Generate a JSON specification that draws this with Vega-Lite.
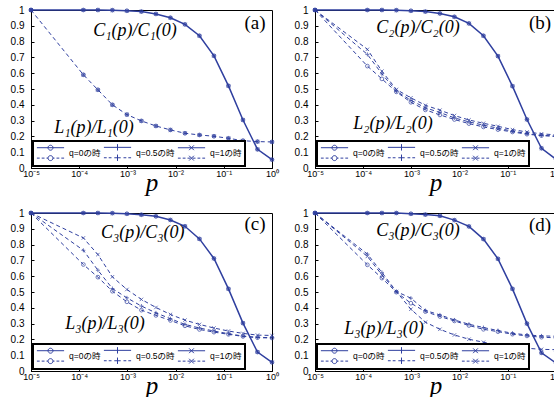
{
"$schema": "https://vega.github.io/schema/vega-lite/v6.json",
"padding": {"left": 9, "top": 4, "right": 0, "bottom": 0},
"background": "white",
"data": {"values": [
{"panel":"a","curve":"C","q":"all","p":0.00001,"v":1},
{"panel":"a","curve":"C","q":"all","p":0.0001220703125,"v":1},
{"panel":"a","curve":"C","q":"all","p":0.000244140625,"v":1},
{"panel":"a","curve":"C","q":"all","p":0.00048828125,"v":0.999},
{"panel":"a","curve":"C","q":"all","p":0.0009765625,"v":0.995},
{"panel":"a","curve":"C","q":"all","p":0.001953125,"v":0.99},
{"panel":"a","curve":"C","q":"all","p":0.00390625,"v":0.975},
{"panel":"a","curve":"C","q":"all","p":0.0078125,"v":0.951},
{"panel":"a","curve":"C","q":"all","p":0.015625,"v":0.909},
{"panel":"a","curve":"C","q":"all","p":0.03125,"v":0.837},
{"panel":"a","curve":"C","q":"all","p":0.0625,"v":0.71},
{"panel":"a","curve":"C","q":"all","p":0.125,"v":0.52},
{"panel":"a","curve":"C","q":"all","p":0.25,"v":0.304},
{"panel":"a","curve":"C","q":"all","p":0.5,"v":0.118},
{"panel":"a","curve":"C","q":"all","p":1,"v":0.053},
{"panel":"a","curve":"L","q":"all","p":0.00001,"v":1},
{"panel":"a","curve":"L","q":"all","p":0.0001220703125,"v":0.59},
{"panel":"a","curve":"L","q":"all","p":0.000244140625,"v":0.495},
{"panel":"a","curve":"L","q":"all","p":0.00048828125,"v":0.4},
{"panel":"a","curve":"L","q":"all","p":0.0009765625,"v":0.338},
{"panel":"a","curve":"L","q":"all","p":0.001953125,"v":0.298},
{"panel":"a","curve":"L","q":"all","p":0.00390625,"v":0.266},
{"panel":"a","curve":"L","q":"all","p":0.0078125,"v":0.241},
{"panel":"a","curve":"L","q":"all","p":0.015625,"v":0.22},
{"panel":"a","curve":"L","q":"all","p":0.03125,"v":0.209},
{"panel":"a","curve":"L","q":"all","p":0.0625,"v":0.201},
{"panel":"a","curve":"L","q":"all","p":0.125,"v":0.188},
{"panel":"a","curve":"L","q":"all","p":0.25,"v":0.173},
{"panel":"a","curve":"L","q":"all","p":0.5,"v":0.167},
{"panel":"a","curve":"L","q":"all","p":1,"v":0.165},

{"panel":"b","curve":"C","q":"all","p":0.00001,"v":1},
{"panel":"b","curve":"C","q":"all","p":0.0001220703125,"v":1},
{"panel":"b","curve":"C","q":"all","p":0.000244140625,"v":1},
{"panel":"b","curve":"C","q":"all","p":0.00048828125,"v":0.999},
{"panel":"b","curve":"C","q":"all","p":0.0009765625,"v":0.995},
{"panel":"b","curve":"C","q":"all","p":0.001953125,"v":0.99},
{"panel":"b","curve":"C","q":"all","p":0.00390625,"v":0.978},
{"panel":"b","curve":"C","q":"all","p":0.0078125,"v":0.957},
{"panel":"b","curve":"C","q":"all","p":0.015625,"v":0.915},
{"panel":"b","curve":"C","q":"all","p":0.03125,"v":0.837},
{"panel":"b","curve":"C","q":"all","p":0.0625,"v":0.708},
{"panel":"b","curve":"C","q":"all","p":0.125,"v":0.518},
{"panel":"b","curve":"C","q":"all","p":0.25,"v":0.307},
{"panel":"b","curve":"C","q":"all","p":0.5,"v":0.125},
{"panel":"b","curve":"C","q":"all","p":1,"v":0.055},
{"panel":"b","curve":"L","q":"0","p":0.00001,"v":1},
{"panel":"b","curve":"L","q":"0","p":0.0001220703125,"v":0.645},
{"panel":"b","curve":"L","q":"0","p":0.000244140625,"v":0.564},
{"panel":"b","curve":"L","q":"0","p":0.00048828125,"v":0.482},
{"panel":"b","curve":"L","q":"0","p":0.0009765625,"v":0.416},
{"panel":"b","curve":"L","q":"0","p":0.001953125,"v":0.368},
{"panel":"b","curve":"L","q":"0","p":0.00390625,"v":0.336},
{"panel":"b","curve":"L","q":"0","p":0.0078125,"v":0.307},
{"panel":"b","curve":"L","q":"0","p":0.015625,"v":0.281},
{"panel":"b","curve":"L","q":"0","p":0.03125,"v":0.26},
{"panel":"b","curve":"L","q":"0","p":0.0625,"v":0.243},
{"panel":"b","curve":"L","q":"0","p":0.125,"v":0.228},
{"panel":"b","curve":"L","q":"0","p":0.25,"v":0.214},
{"panel":"b","curve":"L","q":"0","p":0.5,"v":0.205},
{"panel":"b","curve":"L","q":"0","p":1,"v":0.2},
{"panel":"b","curve":"L","q":"0.5","p":0.00001,"v":1},
{"panel":"b","curve":"L","q":"0.5","p":0.0001220703125,"v":0.719},
{"panel":"b","curve":"L","q":"0.5","p":0.000244140625,"v":0.596},
{"panel":"b","curve":"L","q":"0.5","p":0.00048828125,"v":0.486},
{"panel":"b","curve":"L","q":"0.5","p":0.0009765625,"v":0.429},
{"panel":"b","curve":"L","q":"0.5","p":0.001953125,"v":0.381},
{"panel":"b","curve":"L","q":"0.5","p":0.00390625,"v":0.351},
{"panel":"b","curve":"L","q":"0.5","p":0.0078125,"v":0.317},
{"panel":"b","curve":"L","q":"0.5","p":0.015625,"v":0.292},
{"panel":"b","curve":"L","q":"0.5","p":0.03125,"v":0.271},
{"panel":"b","curve":"L","q":"0.5","p":0.0625,"v":0.252},
{"panel":"b","curve":"L","q":"0.5","p":0.125,"v":0.233},
{"panel":"b","curve":"L","q":"0.5","p":0.25,"v":0.218},
{"panel":"b","curve":"L","q":"0.5","p":0.5,"v":0.207},
{"panel":"b","curve":"L","q":"0.5","p":1,"v":0.202},
{"panel":"b","curve":"L","q":"1","p":0.00001,"v":1},
{"panel":"b","curve":"L","q":"1","p":0.0001220703125,"v":0.751},
{"panel":"b","curve":"L","q":"1","p":0.000244140625,"v":0.613},
{"panel":"b","curve":"L","q":"1","p":0.00048828125,"v":0.497},
{"panel":"b","curve":"L","q":"1","p":0.0009765625,"v":0.444},
{"panel":"b","curve":"L","q":"1","p":0.001953125,"v":0.397},
{"panel":"b","curve":"L","q":"1","p":0.00390625,"v":0.366},
{"panel":"b","curve":"L","q":"1","p":0.0078125,"v":0.332},
{"panel":"b","curve":"L","q":"1","p":0.015625,"v":0.304},
{"panel":"b","curve":"L","q":"1","p":0.03125,"v":0.283},
{"panel":"b","curve":"L","q":"1","p":0.0625,"v":0.264},
{"panel":"b","curve":"L","q":"1","p":0.125,"v":0.243},
{"panel":"b","curve":"L","q":"1","p":0.25,"v":0.228},
{"panel":"b","curve":"L","q":"1","p":0.5,"v":0.216},
{"panel":"b","curve":"L","q":"1","p":1,"v":0.21},

{"panel":"c","curve":"C","q":"all","p":0.00001,"v":1},
{"panel":"c","curve":"C","q":"all","p":0.0001220703125,"v":1},
{"panel":"c","curve":"C","q":"all","p":0.000244140625,"v":1},
{"panel":"c","curve":"C","q":"all","p":0.00048828125,"v":0.999},
{"panel":"c","curve":"C","q":"all","p":0.0009765625,"v":0.995},
{"panel":"c","curve":"C","q":"all","p":0.001953125,"v":0.989},
{"panel":"c","curve":"C","q":"all","p":0.00390625,"v":0.979},
{"panel":"c","curve":"C","q":"all","p":0.0078125,"v":0.956},
{"panel":"c","curve":"C","q":"all","p":0.015625,"v":0.916},
{"panel":"c","curve":"C","q":"all","p":0.03125,"v":0.836},
{"panel":"c","curve":"C","q":"all","p":0.0625,"v":0.712},
{"panel":"c","curve":"C","q":"all","p":0.125,"v":0.52},
{"panel":"c","curve":"C","q":"all","p":0.25,"v":0.303},
{"panel":"c","curve":"C","q":"all","p":0.5,"v":0.12},
{"panel":"c","curve":"C","q":"all","p":1,"v":0.055},
{"panel":"c","curve":"L","q":"0","p":0.00001,"v":1},
{"panel":"c","curve":"L","q":"0","p":0.0001220703125,"v":0.674},
{"panel":"c","curve":"L","q":"0","p":0.000244140625,"v":0.594},
{"panel":"c","curve":"L","q":"0","p":0.00048828125,"v":0.505},
{"panel":"c","curve":"L","q":"0","p":0.0009765625,"v":0.438},
{"panel":"c","curve":"L","q":"0","p":0.001953125,"v":0.385},
{"panel":"c","curve":"L","q":"0","p":0.00390625,"v":0.352},
{"panel":"c","curve":"L","q":"0","p":0.0078125,"v":0.32},
{"panel":"c","curve":"L","q":"0","p":0.015625,"v":0.286},
{"panel":"c","curve":"L","q":"0","p":0.03125,"v":0.263},
{"panel":"c","curve":"L","q":"0","p":0.0625,"v":0.246},
{"panel":"c","curve":"L","q":"0","p":0.125,"v":0.232},
{"panel":"c","curve":"L","q":"0","p":0.25,"v":0.219},
{"panel":"c","curve":"L","q":"0","p":0.5,"v":0.211},
{"panel":"c","curve":"L","q":"0","p":1,"v":0.209},
{"panel":"c","curve":"L","q":"0.5","p":0.00001,"v":1},
{"panel":"c","curve":"L","q":"0.5","p":0.0001220703125,"v":0.764},
{"panel":"c","curve":"L","q":"0.5","p":0.000244140625,"v":0.638},
{"panel":"c","curve":"L","q":"0.5","p":0.00048828125,"v":0.522},
{"panel":"c","curve":"L","q":"0.5","p":0.0009765625,"v":0.463},
{"panel":"c","curve":"L","q":"0.5","p":0.001953125,"v":0.411},
{"panel":"c","curve":"L","q":"0.5","p":0.00390625,"v":0.368},
{"panel":"c","curve":"L","q":"0.5","p":0.0078125,"v":0.331},
{"panel":"c","curve":"L","q":"0.5","p":0.015625,"v":0.295},
{"panel":"c","curve":"L","q":"0.5","p":0.03125,"v":0.272},
{"panel":"c","curve":"L","q":"0.5","p":0.0625,"v":0.253},
{"panel":"c","curve":"L","q":"0.5","p":0.125,"v":0.236},
{"panel":"c","curve":"L","q":"0.5","p":0.25,"v":0.221},
{"panel":"c","curve":"L","q":"0.5","p":0.5,"v":0.213},
{"panel":"c","curve":"L","q":"0.5","p":1,"v":0.211},
{"panel":"c","curve":"L","q":"1","p":0.00001,"v":1},
{"panel":"c","curve":"L","q":"1","p":0.0001220703125,"v":0.842},
{"panel":"c","curve":"L","q":"1","p":0.000244140625,"v":0.737},
{"panel":"c","curve":"L","q":"1","p":0.00048828125,"v":0.596},
{"panel":"c","curve":"L","q":"1","p":0.0009765625,"v":0.516},
{"panel":"c","curve":"L","q":"1","p":0.001953125,"v":0.453},
{"panel":"c","curve":"L","q":"1","p":0.00390625,"v":0.402},
{"panel":"c","curve":"L","q":"1","p":0.0078125,"v":0.358},
{"panel":"c","curve":"L","q":"1","p":0.015625,"v":0.322},
{"panel":"c","curve":"L","q":"1","p":0.03125,"v":0.295},
{"panel":"c","curve":"L","q":"1","p":0.0625,"v":0.272},
{"panel":"c","curve":"L","q":"1","p":0.125,"v":0.253},
{"panel":"c","curve":"L","q":"1","p":0.25,"v":0.238},
{"panel":"c","curve":"L","q":"1","p":0.5,"v":0.227},
{"panel":"c","curve":"L","q":"1","p":1,"v":0.225},

{"panel":"d","curve":"C","q":"all","p":0.00001,"v":1},
{"panel":"d","curve":"C","q":"all","p":0.0001220703125,"v":1},
{"panel":"d","curve":"C","q":"all","p":0.000244140625,"v":1},
{"panel":"d","curve":"C","q":"all","p":0.00048828125,"v":1},
{"panel":"d","curve":"C","q":"all","p":0.0009765625,"v":0.995},
{"panel":"d","curve":"C","q":"all","p":0.001953125,"v":0.99},
{"panel":"d","curve":"C","q":"all","p":0.00390625,"v":0.982},
{"panel":"d","curve":"C","q":"all","p":0.0078125,"v":0.955},
{"panel":"d","curve":"C","q":"all","p":0.015625,"v":0.915},
{"panel":"d","curve":"C","q":"all","p":0.03125,"v":0.835},
{"panel":"d","curve":"C","q":"all","p":0.0625,"v":0.71},
{"panel":"d","curve":"C","q":"all","p":0.125,"v":0.52},
{"panel":"d","curve":"C","q":"all","p":0.25,"v":0.3},
{"panel":"d","curve":"C","q":"all","p":0.5,"v":0.115},
{"panel":"d","curve":"C","q":"all","p":1,"v":0.05},
{"panel":"d","curve":"L","q":"0","p":0.00001,"v":1},
{"panel":"d","curve":"L","q":"0","p":0.0001220703125,"v":0.672},
{"panel":"d","curve":"L","q":"0","p":0.000244140625,"v":0.588},
{"panel":"d","curve":"L","q":"0","p":0.00048828125,"v":0.499},
{"panel":"d","curve":"L","q":"0","p":0.0009765625,"v":0.429},
{"panel":"d","curve":"L","q":"0","p":0.001953125,"v":0.376},
{"panel":"d","curve":"L","q":"0","p":0.00390625,"v":0.345},
{"panel":"d","curve":"L","q":"0","p":0.0078125,"v":0.317},
{"panel":"d","curve":"L","q":"0","p":0.015625,"v":0.288},
{"panel":"d","curve":"L","q":"0","p":0.03125,"v":0.264},
{"panel":"d","curve":"L","q":"0","p":0.0625,"v":0.249},
{"panel":"d","curve":"L","q":"0","p":0.125,"v":0.233},
{"panel":"d","curve":"L","q":"0","p":0.25,"v":0.222},
{"panel":"d","curve":"L","q":"0","p":0.5,"v":0.214},
{"panel":"d","curve":"L","q":"0","p":1,"v":0.21},
{"panel":"d","curve":"L","q":"0.5","p":0.00001,"v":1},
{"panel":"d","curve":"L","q":"0.5","p":0.0001220703125,"v":0.74},
{"panel":"d","curve":"L","q":"0.5","p":0.000244140625,"v":0.624},
{"panel":"d","curve":"L","q":"0.5","p":0.00048828125,"v":0.503},
{"panel":"d","curve":"L","q":"0.5","p":0.0009765625,"v":0.461},
{"panel":"d","curve":"L","q":"0.5","p":0.001953125,"v":0.383},
{"panel":"d","curve":"L","q":"0.5","p":0.00390625,"v":0.355},
{"panel":"d","curve":"L","q":"0.5","p":0.0078125,"v":0.323},
{"panel":"d","curve":"L","q":"0.5","p":0.015625,"v":0.296},
{"panel":"d","curve":"L","q":"0.5","p":0.03125,"v":0.275},
{"panel":"d","curve":"L","q":"0.5","p":0.0625,"v":0.256},
{"panel":"d","curve":"L","q":"0.5","p":0.125,"v":0.239},
{"panel":"d","curve":"L","q":"0.5","p":0.25,"v":0.228},
{"panel":"d","curve":"L","q":"0.5","p":0.5,"v":0.222},
{"panel":"d","curve":"L","q":"0.5","p":1,"v":0.22},
{"panel":"d","curve":"L","q":"1","p":0.00001,"v":1},
{"panel":"d","curve":"L","q":"1","p":0.0001220703125,"v":0.725},
{"panel":"d","curve":"L","q":"1","p":0.000244140625,"v":0.609},
{"panel":"d","curve":"L","q":"1","p":0.00048828125,"v":0.503},
{"panel":"d","curve":"L","q":"1","p":0.0009765625,"v":0.391},
{"panel":"d","curve":"L","q":"1","p":0.001953125,"v":0.309},
{"panel":"d","curve":"L","q":"1","p":0.00390625,"v":0.264},
{"panel":"d","curve":"L","q":"1","p":0.0078125,"v":0.228},
{"panel":"d","curve":"L","q":"1","p":0.015625,"v":0.201},
{"panel":"d","curve":"L","q":"1","p":0.03125,"v":0.182},
{"panel":"d","curve":"L","q":"1","p":0.0625,"v":0.165},
{"panel":"d","curve":"L","q":"1","p":0.125,"v":0.154},
{"panel":"d","curve":"L","q":"1","p":0.25,"v":0.144},
{"panel":"d","curve":"L","q":"1","p":0.5,"v":0.137},
{"panel":"d","curve":"L","q":"1","p":1,"v":0.135}
]},
"columns": 2,
"spacing": {"row": 45, "column": 43},
"bounds": "flush",
"resolve": {"scale": {"x": "independent", "y": "independent", "shape": "independent"}, "legend": {"shape": "independent"}},
"concat": [
{
 "width": 241, "height": 158,
 "transform": [{"filter": "datum.panel === 'a'"}],
 "encoding": {
  "x": {"field": "p", "type": "quantitative", "title": "p", "scale": {"type": "log", "domain": [0.00001, 1], "nice": false},
    "axis": {"values": [0.00001, 0.0001, 0.001, 0.01, 0.1, 1], "labelOverlap": false, "labelFlush": false, "labelExpr": "['10⁻⁵','10⁻⁴','10⁻³','10⁻²','10⁻¹','10⁰'][round(log(datum.value)/LN10)+5]"}},
  "y": {"field": "v", "type": "quantitative", "title": null, "scale": {"domain": [0, 1], "nice": false},
    "axis": {"values": [0, 0.1, 0.2, 0.3, 0.4, 0.5, 0.6, 0.7, 0.8, 0.9, 1], "format": "~g", "labelOverlap": false, "labelFlush": false}}
 },
 "layer": [
  {"transform": [{"filter": "datum.curve === 'C'"}],
   "mark": {"type": "line", "color": "#2f3f9f", "strokeWidth": 1.5},
   "encoding": {"detail": {"field": "q"}}},
  {"transform": [{"filter": "datum.curve === 'L'"}],
   "mark": {"type": "line", "color": "#2f3f9f", "strokeWidth": 1, "strokeDash": [4, 3]},
   "encoding": {"detail": {"field": "q"}}},
  {"transform": [{"filter": "datum.q === '0' || datum.q === 'all'"}],
   "mark": {"type": "point", "shape": "circle", "size": 14, "color": "#2f3f9f", "strokeWidth": 1}},
  {"transform": [{"filter": "datum.q === '0.5' || datum.q === 'all'"}],
   "mark": {"type": "point", "shape": "M-1,0H1M0,-1V1", "size": 16, "color": "#2f3f9f", "strokeWidth": 1}},
  {"transform": [{"filter": "datum.q === '1' || datum.q === 'all'"}],
   "mark": {"type": "point", "shape": "M-1,-1L1,1M-1,1L1,-1", "size": 12, "color": "#2f3f9f", "strokeWidth": 1}},
  {"data": {"values": [{"p": 0.00144, "v": 0.835, "text": "C₁(p)/C₁(0)"}, {"p": 0.000203, "v": 0.222, "text": "L₁(p)/L₁(0)"}]},
   "mark": {"type": "text", "font": "Liberation Serif", "fontStyle": "italic", "fontSize": 18, "align": "center", "baseline": "alphabetic", "color": "black"},
   "encoding": {"text": {"field": "text"}}},
  {"data": {"values": [{"p": 0.443, "v": 0.878, "text": "(a)"}]},
   "mark": {"type": "text", "font": "Liberation Serif", "fontSize": 19, "align": "center", "baseline": "alphabetic", "color": "black"},
   "encoding": {"text": {"field": "text"}}},
  {"data": {"values": [{"q": "q=0の時"}, {"q": "q=0.5の時"}, {"q": "q=1の時"}]},
   "mark": {"type": "point", "opacity": 0, "color": "#2f3f9f", "size": 256},
   "encoding": {"shape": {"field": "q", "type": "nominal", "legend": {"title": null},
     "scale": {"domain": ["q=0の時", "q=0.5の時", "q=1の時"], "range": [
      "M-1.7,-0.65H1.7M0.31,-0.65A0.31,0.31,0,1,1,-0.31,-0.65A0.31,0.31,0,1,1,0.31,-0.65M-1.7,0.65H-1.35M-1.1,0.65H-0.75M-0.5,0.65H-0.31M0.31,0.65H0.5M0.75,0.65H1.1M1.35,0.65H1.7M0.31,0.65A0.31,0.31,0,1,1,-0.31,0.65A0.31,0.31,0,1,1,0.31,0.65",
      "M-1.7,-0.65H1.7M0,-1.05V-0.25M-1.7,0.65H-1.35M-1.1,0.65H-0.75M-0.4,0.65H0.4M0.75,0.65H1.1M1.35,0.65H1.7M0,0.25V1.05",
      "M-1.7,-0.65H1.7M-0.3,-0.95L0.3,-0.35M-0.3,-0.35L0.3,-0.95M-1.7,0.65H-1.35M-1.1,0.65H-0.75M-0.5,0.65H-0.15M0.15,0.65H0.5M0.75,0.65H1.1M1.35,0.65H1.7M-0.3,0.35L0.3,0.95M-0.3,0.95L0.3,0.35"]}}}}
 ]
},
{
 "width": 241, "height": 158,
 "transform": [{"filter": "datum.panel === 'b'"}],
 "encoding": {
  "x": {"field": "p", "type": "quantitative", "title": "p", "scale": {"type": "log", "domain": [0.00001, 1], "nice": false},
    "axis": {"values": [0.00001, 0.0001, 0.001, 0.01, 0.1, 1], "labelOverlap": false, "labelFlush": false, "labelExpr": "['10⁻⁵','10⁻⁴','10⁻³','10⁻²','10⁻¹','10⁰'][round(log(datum.value)/LN10)+5]"}},
  "y": {"field": "v", "type": "quantitative", "title": null, "scale": {"domain": [0, 1], "nice": false},
    "axis": {"values": [0, 0.1, 0.2, 0.3, 0.4, 0.5, 0.6, 0.7, 0.8, 0.9, 1], "format": "~g", "labelOverlap": false, "labelFlush": false}}
 },
 "layer": [
  {"transform": [{"filter": "datum.curve === 'C'"}],
   "mark": {"type": "line", "color": "#2f3f9f", "strokeWidth": 1.5},
   "encoding": {"detail": {"field": "q"}}},
  {"transform": [{"filter": "datum.curve === 'L'"}],
   "mark": {"type": "line", "color": "#2f3f9f", "strokeWidth": 1, "strokeDash": [4, 3]},
   "encoding": {"detail": {"field": "q"}}},
  {"transform": [{"filter": "datum.q === '0' || datum.q === 'all'"}],
   "mark": {"type": "point", "shape": "circle", "size": 14, "color": "#2f3f9f", "strokeWidth": 1}},
  {"transform": [{"filter": "datum.q === '0.5' || datum.q === 'all'"}],
   "mark": {"type": "point", "shape": "M-1,0H1M0,-1V1", "size": 16, "color": "#2f3f9f", "strokeWidth": 1}},
  {"transform": [{"filter": "datum.q === '1' || datum.q === 'all'"}],
   "mark": {"type": "point", "shape": "M-1,-1L1,1M-1,1L1,-1", "size": 12, "color": "#2f3f9f", "strokeWidth": 1}},
  {"data": {"values": [{"p": 0.00137, "v": 0.856, "text": "C₂(p)/C₂(0)"}, {"p": 0.000415, "v": 0.247, "text": "L₂(p)/L₂(0)"}]},
   "mark": {"type": "text", "font": "Liberation Serif", "fontStyle": "italic", "fontSize": 18, "align": "center", "baseline": "alphabetic", "color": "black"},
   "encoding": {"text": {"field": "text"}}},
  {"data": {"values": [{"p": 0.466, "v": 0.88, "text": "(b)"}]},
   "mark": {"type": "text", "font": "Liberation Serif", "fontSize": 19, "align": "center", "baseline": "alphabetic", "color": "black"},
   "encoding": {"text": {"field": "text"}}},
  {"data": {"values": [{"q": "q=0の時"}, {"q": "q=0.5の時"}, {"q": "q=1の時"}]},
   "mark": {"type": "point", "opacity": 0, "color": "#2f3f9f", "size": 256},
   "encoding": {"shape": {"field": "q", "type": "nominal", "legend": {"title": null},
     "scale": {"domain": ["q=0の時", "q=0.5の時", "q=1の時"], "range": [
      "M-1.7,-0.65H1.7M0.31,-0.65A0.31,0.31,0,1,1,-0.31,-0.65A0.31,0.31,0,1,1,0.31,-0.65M-1.7,0.65H-1.35M-1.1,0.65H-0.75M-0.5,0.65H-0.31M0.31,0.65H0.5M0.75,0.65H1.1M1.35,0.65H1.7M0.31,0.65A0.31,0.31,0,1,1,-0.31,0.65A0.31,0.31,0,1,1,0.31,0.65",
      "M-1.7,-0.65H1.7M0,-1.05V-0.25M-1.7,0.65H-1.35M-1.1,0.65H-0.75M-0.4,0.65H0.4M0.75,0.65H1.1M1.35,0.65H1.7M0,0.25V1.05",
      "M-1.7,-0.65H1.7M-0.3,-0.95L0.3,-0.35M-0.3,-0.35L0.3,-0.95M-1.7,0.65H-1.35M-1.1,0.65H-0.75M-0.5,0.65H-0.15M0.15,0.65H0.5M0.75,0.65H1.1M1.35,0.65H1.7M-0.3,0.35L0.3,0.95M-0.3,0.95L0.3,0.35"]}}}}
 ]
},
{
 "width": 241, "height": 158,
 "transform": [{"filter": "datum.panel === 'c'"}],
 "encoding": {
  "x": {"field": "p", "type": "quantitative", "title": "p", "scale": {"type": "log", "domain": [0.00001, 1], "nice": false},
    "axis": {"values": [0.00001, 0.0001, 0.001, 0.01, 0.1, 1], "labelOverlap": false, "labelFlush": false, "labelExpr": "['10⁻⁵','10⁻⁴','10⁻³','10⁻²','10⁻¹','10⁰'][round(log(datum.value)/LN10)+5]"}},
  "y": {"field": "v", "type": "quantitative", "title": null, "scale": {"domain": [0, 1], "nice": false},
    "axis": {"values": [0, 0.1, 0.2, 0.3, 0.4, 0.5, 0.6, 0.7, 0.8, 0.9, 1], "format": "~g", "labelOverlap": false, "labelFlush": false}}
 },
 "layer": [
  {"transform": [{"filter": "datum.curve === 'C'"}],
   "mark": {"type": "line", "color": "#2f3f9f", "strokeWidth": 1.5},
   "encoding": {"detail": {"field": "q"}}},
  {"transform": [{"filter": "datum.curve === 'L'"}],
   "mark": {"type": "line", "color": "#2f3f9f", "strokeWidth": 1, "strokeDash": [4, 3]},
   "encoding": {"detail": {"field": "q"}}},
  {"transform": [{"filter": "datum.q === '0' || datum.q === 'all'"}],
   "mark": {"type": "point", "shape": "circle", "size": 14, "color": "#2f3f9f", "strokeWidth": 1}},
  {"transform": [{"filter": "datum.q === '0.5' || datum.q === 'all'"}],
   "mark": {"type": "point", "shape": "M-1,0H1M0,-1V1", "size": 16, "color": "#2f3f9f", "strokeWidth": 1}},
  {"transform": [{"filter": "datum.q === '1' || datum.q === 'all'"}],
   "mark": {"type": "point", "shape": "M-1,-1L1,1M-1,1L1,-1", "size": 12, "color": "#2f3f9f", "strokeWidth": 1}},
  {"data": {"values": [{"p": 0.00209, "v": 0.844, "text": "C₃(p)/C₃(0)"}, {"p": 0.000343, "v": 0.264, "text": "L₃(p)/L₃(0)"}]},
   "mark": {"type": "text", "font": "Liberation Serif", "fontStyle": "italic", "fontSize": 18, "align": "center", "baseline": "alphabetic", "color": "black"},
   "encoding": {"text": {"field": "text"}}},
  {"data": {"values": [{"p": 0.443, "v": 0.892, "text": "(c)"}]},
   "mark": {"type": "text", "font": "Liberation Serif", "fontSize": 19, "align": "center", "baseline": "alphabetic", "color": "black"},
   "encoding": {"text": {"field": "text"}}},
  {"data": {"values": [{"q": "q=0の時"}, {"q": "q=0.5の時"}, {"q": "q=1の時"}]},
   "mark": {"type": "point", "opacity": 0, "color": "#2f3f9f", "size": 256},
   "encoding": {"shape": {"field": "q", "type": "nominal", "legend": {"title": null},
     "scale": {"domain": ["q=0の時", "q=0.5の時", "q=1の時"], "range": [
      "M-1.7,-0.65H1.7M0.31,-0.65A0.31,0.31,0,1,1,-0.31,-0.65A0.31,0.31,0,1,1,0.31,-0.65M-1.7,0.65H-1.35M-1.1,0.65H-0.75M-0.5,0.65H-0.31M0.31,0.65H0.5M0.75,0.65H1.1M1.35,0.65H1.7M0.31,0.65A0.31,0.31,0,1,1,-0.31,0.65A0.31,0.31,0,1,1,0.31,0.65",
      "M-1.7,-0.65H1.7M0,-1.05V-0.25M-1.7,0.65H-1.35M-1.1,0.65H-0.75M-0.4,0.65H0.4M0.75,0.65H1.1M1.35,0.65H1.7M0,0.25V1.05",
      "M-1.7,-0.65H1.7M-0.3,-0.95L0.3,-0.35M-0.3,-0.35L0.3,-0.95M-1.7,0.65H-1.35M-1.1,0.65H-0.75M-0.5,0.65H-0.15M0.15,0.65H0.5M0.75,0.65H1.1M1.35,0.65H1.7M-0.3,0.35L0.3,0.95M-0.3,0.95L0.3,0.35"]}}}}
 ]
},
{
 "width": 241, "height": 158,
 "transform": [{"filter": "datum.panel === 'd'"}],
 "encoding": {
  "x": {"field": "p", "type": "quantitative", "title": "p", "scale": {"type": "log", "domain": [0.00001, 1], "nice": false},
    "axis": {"values": [0.00001, 0.0001, 0.001, 0.01, 0.1, 1], "labelOverlap": false, "labelFlush": false, "labelExpr": "['10⁻⁵','10⁻⁴','10⁻³','10⁻²','10⁻¹','10⁰'][round(log(datum.value)/LN10)+5]"}},
  "y": {"field": "v", "type": "quantitative", "title": null, "scale": {"domain": [0, 1], "nice": false},
    "axis": {"values": [0, 0.1, 0.2, 0.3, 0.4, 0.5, 0.6, 0.7, 0.8, 0.9, 1], "format": "~g", "labelOverlap": false, "labelFlush": false}}
 },
 "layer": [
  {"transform": [{"filter": "datum.curve === 'C'"}],
   "mark": {"type": "line", "color": "#2f3f9f", "strokeWidth": 1.5},
   "encoding": {"detail": {"field": "q"}}},
  {"transform": [{"filter": "datum.curve === 'L'"}],
   "mark": {"type": "line", "color": "#2f3f9f", "strokeWidth": 1, "strokeDash": [4, 3]},
   "encoding": {"detail": {"field": "q"}}},
  {"transform": [{"filter": "datum.q === '0' || datum.q === 'all'"}],
   "mark": {"type": "point", "shape": "circle", "size": 14, "color": "#2f3f9f", "strokeWidth": 1}},
  {"transform": [{"filter": "datum.q === '0.5' || datum.q === 'all'"}],
   "mark": {"type": "point", "shape": "M-1,0H1M0,-1V1", "size": 16, "color": "#2f3f9f", "strokeWidth": 1}},
  {"transform": [{"filter": "datum.q === '1' || datum.q === 'all'"}],
   "mark": {"type": "point", "shape": "M-1,-1L1,1M-1,1L1,-1", "size": 12, "color": "#2f3f9f", "strokeWidth": 1}},
  {"data": {"values": [{"p": 0.00137, "v": 0.854, "text": "C₃(p)/C₃(0)"}, {"p": 0.000269, "v": 0.234, "text": "L₃(p)/L₃(0)"}]},
   "mark": {"type": "text", "font": "Liberation Serif", "fontStyle": "italic", "fontSize": 18, "align": "center", "baseline": "alphabetic", "color": "black"},
   "encoding": {"text": {"field": "text"}}},
  {"data": {"values": [{"p": 0.466, "v": 0.886, "text": "(d)"}]},
   "mark": {"type": "text", "font": "Liberation Serif", "fontSize": 19, "align": "center", "baseline": "alphabetic", "color": "black"},
   "encoding": {"text": {"field": "text"}}},
  {"data": {"values": [{"q": "q=0の時"}, {"q": "q=0.5の時"}, {"q": "q=1の時"}]},
   "mark": {"type": "point", "opacity": 0, "color": "#2f3f9f", "size": 256},
   "encoding": {"shape": {"field": "q", "type": "nominal", "legend": {"title": null},
     "scale": {"domain": ["q=0の時", "q=0.5の時", "q=1の時"], "range": [
      "M-1.7,-0.65H1.7M0.31,-0.65A0.31,0.31,0,1,1,-0.31,-0.65A0.31,0.31,0,1,1,0.31,-0.65M-1.7,0.65H-1.35M-1.1,0.65H-0.75M-0.5,0.65H-0.31M0.31,0.65H0.5M0.75,0.65H1.1M1.35,0.65H1.7M0.31,0.65A0.31,0.31,0,1,1,-0.31,0.65A0.31,0.31,0,1,1,0.31,0.65",
      "M-1.7,-0.65H1.7M0,-1.05V-0.25M-1.7,0.65H-1.35M-1.1,0.65H-0.75M-0.4,0.65H0.4M0.75,0.65H1.1M1.35,0.65H1.7M0,0.25V1.05",
      "M-1.7,-0.65H1.7M-0.3,-0.95L0.3,-0.35M-0.3,-0.35L0.3,-0.95M-1.7,0.65H-1.35M-1.1,0.65H-0.75M-0.5,0.65H-0.15M0.15,0.65H0.5M0.75,0.65H1.1M1.35,0.65H1.7M-0.3,0.35L0.3,0.95M-0.3,0.95L0.3,0.35"]}}}}
 ]
}
],
"config": {
 "font": "Liberation Sans",
 "view": {"stroke": "black", "strokeWidth": 1},
 "axis": {"grid": false, "domainColor": "black", "domainWidth": 1, "tickColor": "black", "tickSize": -3, "labelColor": "black", "labelFont": "Liberation Sans", "labelFlush": false, "labelOverlap": false},
 "axisX": {"labelFontSize": 9, "labelPadding": 4, "titleFont": "Liberation Serif", "titleFontStyle": "italic", "titleFontWeight": "normal", "titleFontSize": 25, "titleColor": "black", "titleBaseline": "alphabetic", "titlePadding": 12},
 "axisY": {"labelFontSize": 10, "labelPadding": 10},
 "legend": {"orient": "bottom-left", "offset": 2, "direction": "horizontal", "fillColor": "white", "strokeColor": "black", "strokeWidth": 2, "padding": 3,
   "symbolSize": 256, "symbolStrokeWidth": 1, "symbolStrokeColor": "#2f3f9f", "symbolFillColor": "transparent", "symbolOffset": 6, "symbolOpacity": 1,
   "labelFont": "Liberation Sans, Noto Sans CJK JP", "labelFontSize": 8.5, "labelColor": "black", "labelOffset": 10, "columnPadding": 0}
}
}
